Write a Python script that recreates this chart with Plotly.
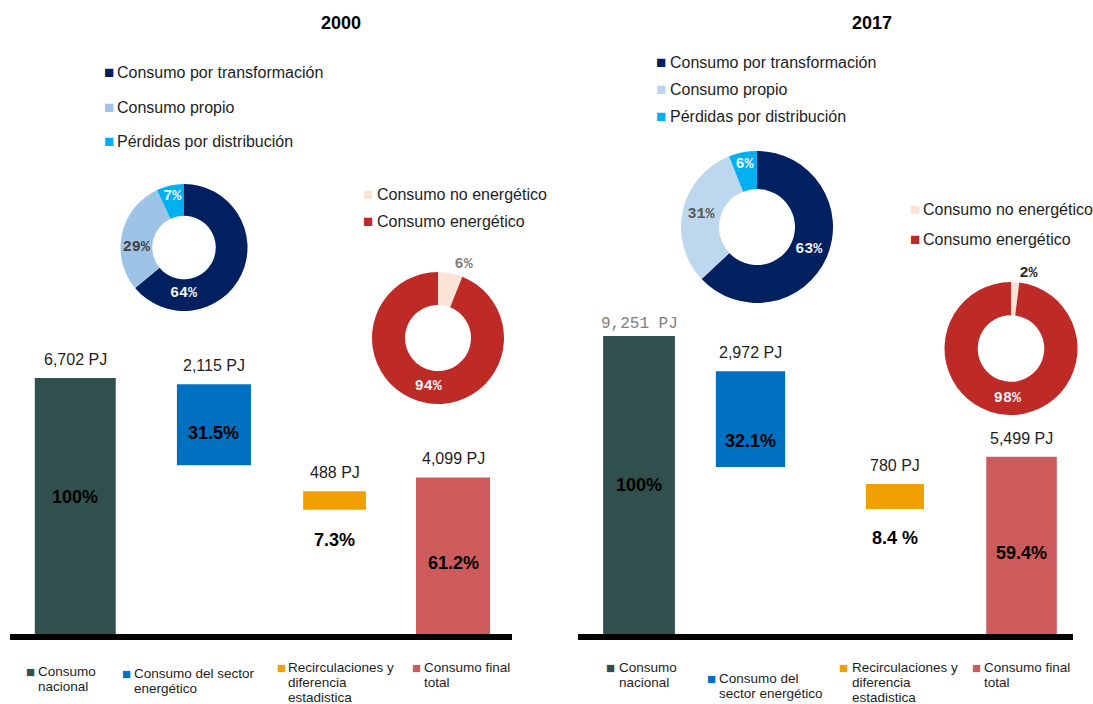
import plotly.graph_objects as go

# ---------------- data ----------------
categories = ["Consumo nacional", "Consumo del sector energético",
              "Recirculaciones y diferencia estadistica", "Consumo final total"]
cat_lines_2000 = [["Consumo", "nacional"], ["Consumo del sector", "energético"],
                  ["Recirculaciones y", "diferencia", "estadistica"], ["Consumo final", "total"]]
cat_lines_2017 = [["Consumo", "nacional"], ["Consumo del", "sector energético"],
                  ["Recirculaciones y", "diferencia", "estadistica"], ["Consumo final", "total"]]

pj_2000 = [6702, 2115, 488, 4099]
pj_2017 = [9251, 2972, 780, 5499]
pj_text_2000 = ["6,702 PJ", "2,115 PJ", "488 PJ", "4,099 PJ"]
pj_text_2017 = ["9,251 PJ", "2,972 PJ", "780 PJ", "5,499 PJ"]
pct_text_2000 = ["100%", "31.5%", "7.3%", "61.2%"]
pct_text_2017 = ["100%", "32.1%", "8.4 %", "59.4%"]
# bottoms of the floating bars (PJ)
base_2000 = [0, 4420, 3250, 0]
base_2017 = [0, 5185, 3880, 0]

sector_labels = ["Consumo por transformación", "Consumo propio", "Pérdidas por distribución"]
sector_2000 = [64, 29, 7]
sector_2017 = [63, 31, 6]
final_labels = ["Consumo no energético", "Consumo energético"]
final_2000 = [6, 94]
final_2017 = [2, 98]

# ---------------- style ----------------
W, H = 1093, 704
SANS = "Liberation Sans"
MONO = "Liberation Mono"
TXT = "#1e1e1e"
bar_colors = ["#30504d", "#0070c0", "#f0a000", "#cd5b5b"]
sector_colors_2000 = ["#002060", "#9dc3e6", "#00b0f0"]
sector_colors_2017 = ["#002060", "#bdd7ee", "#00b0f0"]
final_colors = ["#fbe3d6", "#be2a26"]


def fx(x):
    return x / W


def fy(y):
    return 1 - y / H


fig = go.Figure()
annotations = []


def ann(text, x, y, size, color=TXT, xanchor="left", yanchor="middle", family=SANS,
        weight="normal", xref="paper", yref="paper", xshift=0, yshift=0):
    annotations.append(dict(
        text=text, x=x, y=y, xref=xref, yref=yref, xanchor=xanchor, yanchor=yanchor,
        showarrow=False, xshift=xshift, yshift=yshift, borderpad=0,
        font=dict(size=size, color=color, family=family, weight=weight)))


panels = [
    dict(year="2000", pj=pj_2000, base=base_2000, pj_text=pj_text_2000, pct=pct_text_2000,
         xa="x", ya="y", yr=8743,
         nudge=[0.02, 0.125, 0.086, 0.03], widths=[0.645, 0.59, 0.50, 0.59],
         pct_shift=[9, -8, -30, -7],
         title_x=341, cat_lines=cat_lines_2000,
         leg_sq=[30, 126.5, 281, 416.5], leg_tx=[37, 133, 287, 423],
         leg_y=[671, 673, 667, 667]),
    dict(year="2017", pj=pj_2017, base=base_2017, pj_text=pj_text_2017, pct=pct_text_2017,
         xa="x2", ya="y2", yr=10369,
         nudge=[-0.007, -0.106, 0.061, 0.084], widths=[0.58, 0.56, 0.47, 0.57],
         pct_shift=[0, -22, -29, -8],
         title_x=872, cat_lines=cat_lines_2017,
         leg_sq=[610, 711, 843, 976], leg_tx=[618, 718, 851, 983],
         leg_y=[667, 678, 667, 667]),
]

for p in panels:
    offsets = [n - w / 2 for n, w in zip(p["nudge"], p["widths"])]
    fig.add_trace(go.Bar(
        x=categories, y=p["pj"], base=p["base"], width=p["widths"], offset=offsets,
        marker=dict(color=bar_colors, line=dict(width=0)),
        xaxis=p["xa"], yaxis=p["ya"], showlegend=False,
        hovertemplate="%{x}: %{y:,} PJ<extra></extra>"))
    # labels on bars
    for i in range(4):
        xi = i + p["nudge"][i]
        top = p["base"][i] + p["pj"][i]
        if p["year"] == "2017" and i == 0:
            ann(p["pj_text"][i], xi, top, 16, color="#808080", xanchor="center",
                yanchor="bottom", family=MONO, xref=p["xa"], yref=p["ya"], yshift=2)
        else:
            ann(p["pj_text"][i], xi, top, 16, xanchor="center", yanchor="bottom",
                xref=p["xa"], yref=p["ya"], yshift=9)
        y_pct = p["base"][i] if i == 2 else p["base"][i] + p["pj"][i] / 2
        ann(p["pct"][i], xi, y_pct, 18, color="#000000", xanchor="center",
            yanchor="middle", weight="bold", xref=p["xa"], yref=p["ya"],
            yshift=p["pct_shift"][i])
    # title
    ann(p["year"], fx(p["title_x"]), fy(23), 18, color="#000000", xanchor="center",
        weight="bold")
    # bottom category legend
    for i in range(4):
        ann("■", fx(p["leg_sq"][i]), fy(p["leg_y"][i]), 15, color=bar_colors[i],
            xanchor="center")
        for k, line in enumerate(p["cat_lines"][i]):
            ann(line, fx(p["leg_tx"][i]), fy(p["leg_y"][i] + 15 * k), 13.5)


def add_donut(values, labels, colors, textcolors, positions, cx, cy, d):
    tf = dict(family=MONO, size=15, color=textcolors, weight="bold")
    fig.add_trace(go.Pie(
        values=values, labels=labels, hole=0.5, sort=False, direction="clockwise",
        rotation=0, marker=dict(colors=colors, line=dict(width=0)),
        texttemplate="%{percent:.0%}", textposition=positions,
        insidetextorientation="horizontal",
        textfont=tf, insidetextfont=tf, outsidetextfont=tf,
        showlegend=False, hovertemplate="%{label}: %{percent:.0%}<extra></extra>",
        domain=dict(x=[fx(cx - d / 2), fx(cx + d / 2)], y=[fy(cy + d / 2), fy(cy - d / 2)])))


add_donut(sector_2000, sector_labels, sector_colors_2000,
          ["#f2f2f2", "#404040", "#f2f2f2"], ["inside"] * 3, 184, 247.5, 127)
add_donut(final_2000, final_labels, final_colors,
          ["#808080", "#f2f2f2"], ["outside", "inside"], 438, 338, 132)
add_donut(sector_2017, sector_labels, sector_colors_2017,
          ["#f2f2f2", "#595959", "#f2f2f2"], ["inside"] * 3, 757, 227, 152)
add_donut(final_2017, final_labels, final_colors,
          ["#262626", "#f2f2f2"], ["outside", "inside"], 1011, 348.5, 133)

# donut legends
donut_legends = [
    (sector_labels, sector_colors_2000, 108.5, 116, [72, 107, 141]),
    (final_labels, final_colors, 367.5, 376, [194, 221]),
    (sector_labels, sector_colors_2017, 661, 669, [62, 89, 116]),
    (final_labels, final_colors, 914.5, 922, [209, 240]),
]
for labels, colors, sqx, tx, ys in donut_legends:
    for lab, col, yy in zip(labels, colors, ys):
        ann("■", fx(sqx), fy(yy), 17, color=col, xanchor="center")
        ann(lab, fx(tx), fy(yy), 16)

axis_common = dict(showgrid=False, zeroline=False, showticklabels=False, ticks="",
                   fixedrange=True)
ydom = [fy(634), fy(300)]
fig.update_layout(
    width=W, height=H, autosize=False,
    margin=dict(l=0, r=0, t=0, b=0),
    paper_bgcolor="white", plot_bgcolor="rgba(0,0,0,0)",
    font=dict(family=SANS, color=TXT),
    xaxis=dict(domain=[fx(10), fx(512)], type="category", range=[-0.5, 3.5],
               showline=True, linecolor="black", linewidth=6, anchor="y", **axis_common),
    yaxis=dict(domain=ydom, range=[0, panels[0]["yr"]], showline=False, anchor="x",
               **axis_common),
    xaxis2=dict(domain=[fx(578), fx(1073)], type="category", range=[-0.5, 3.5],
                showline=True, linecolor="black", linewidth=6, anchor="y2", **axis_common),
    yaxis2=dict(domain=ydom, range=[0, panels[1]["yr"]], showline=False, anchor="x2",
                **axis_common),
    uniformtext=dict(minsize=15, mode="show"),
    annotations=annotations,
    barmode="overlay",
)

fig.write_html(
    "out.html",
    config={"displayModeBar": False},
    post_script="document.body.style.margin='0px';"
                "document.documentElement.style.overflow='hidden';"
                "document.body.style.overflow='hidden';",
)
